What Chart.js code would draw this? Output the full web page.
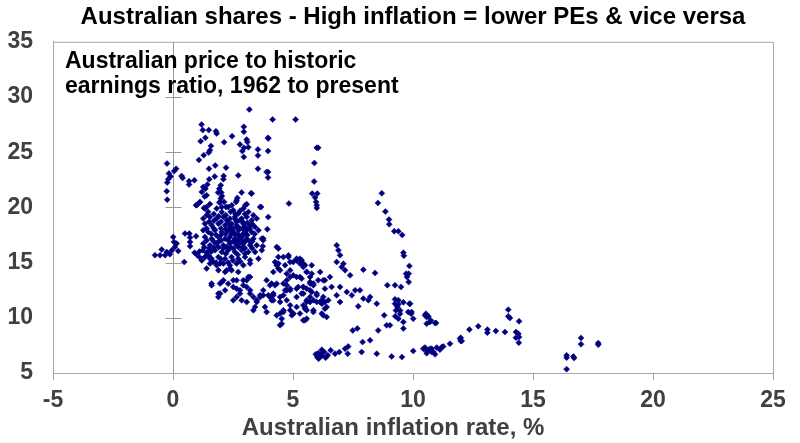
<!DOCTYPE html>
<html>
<head>
<meta charset="utf-8">
<script src="https://cdn.jsdelivr.net/npm/chart.js@4.4.1/dist/chart.umd.min.js"></script>
<style>
  html, body { margin: 0; padding: 0; background: #fff; }
</style>
</head>
<body>
<canvas id="pe-chart" width="800" height="443"></canvas>
<script>
// Points are [inflation %, PE ratio], grouped by area
const highPePoints = [
  [3.18,28.87],[4.15,27.96],[5.11,27.96],[1.19,27.5],[1.24,27.0],[1.49,27.0],[1.79,26.9],[1.82,26.7],
  [2.95,27.3],[2.95,26.85],[1.35,26.3],[1.15,26.0],[2.46,26.45],[2.13,25.9],[3.07,26.15],[3.1,25.93],
  [2.79,25.7],[3.14,25.45],[2.96,25.4],[2.89,25.1],[2.95,24.57],[3.96,26.3],[3.96,25.1],[3.54,25.25],
  [3.54,24.7],[1.58,25.57],[1.54,25.18],[1.49,24.97],[1.28,24.73],[1.08,24.3],[-0.25,23.97],[0.13,23.5],
  [0.05,23.3],[1.76,23.8],[1.5,23.5],[2.21,23.6],[3.54,23.5],[3.96,23.2],[3.96,22.7],[-0.17,23.07],
  [-0.1,22.8],[-0.2,22.55],[-0.24,22.25],[-0.26,21.46],[-0.24,20.7],[0.36,22.85],[0.4,22.67],[0.67,22.37],
  [0.67,22.07],[0.89,22.46],[1.51,22.55],[1.74,22.8],[2.11,22.85],[2.1,22.55],[2.72,22.9],[1.43,22.07],
  [1.26,21.85],[1.2,21.4],[1.35,21.7],[1.4,21.1],[1.32,20.98],[1.99,22.0],[1.93,21.7],[1.88,21.35],
  [2.01,21.35],[2.04,21.04],[1.99,20.8],[1.93,20.44],[0.96,20.2],[1.1,20.44],[1.29,19.95],[1.54,20.3],
  [2.13,20.5],[2.21,20.04],[2.45,20.2],[2.63,20.5],[2.68,20.86],[2.86,21.35],[3.01,20.2],[3.25,21.28],
  [3.67,20.04],[4.83,20.35],[3.28,21.26],[3.9,23.21],[3.97,26.24],[1.13,20.5],[1.4,20.04],[1.96,20.5],
  [2.03,20.04],[2.65,20.65],[3.07,20.29],[3.97,19.13],[3.93,18.02]
];

const sixPctColumn = [
  [6.05,25.4],[5.99,25.4],[5.89,24.03],[5.88,22.35],[5.8,21.25],[6.01,21.25],[5.92,20.9],[5.96,20.5],
  [5.99,20.2],[5.99,19.95]
];

const seventiesPoints = [
  [8.7,21.28],[8.54,20.4],[8.85,19.62],[9.0,18.9],[9.01,18.47],[9.22,17.84],[9.39,17.84],[9.55,17.5],
  [9.6,15.9],[9.62,15.63],[9.85,14.7],[9.71,14.0],[9.82,14.0],[9.75,13.7],[9.82,13.24],[8.93,12.95],
  [9.25,12.95],[9.5,12.8],[9.25,11.67],[9.39,11.6],[9.25,11.28],[9.39,11.22],[9.6,11.4],[9.85,11.28],
  [9.35,10.97],[9.29,10.67],[9.46,10.67],[9.46,10.37],[9.8,10.52],[9.92,10.37],[9.26,10.13],[9.39,9.92],
  [9.6,9.62],[10.01,9.92],[9.6,9.04],[8.8,10.22],[8.9,9.32],[9.04,9.32],[8.55,8.86],[10.54,10.37],
  [10.64,10.13],[10.74,9.77],[10.92,9.53],[10.57,9.47],[10.5,10.22],[10.57,10.07],[10.96,9.53],[10.71,9.62],
  [9.94,10.52],[9.88,11.28]
];

const lowPePoints = [
  [7.49,8.86],[7.68,9.04],[7.9,7.8],[8.21,7.96],[8.49,6.75],[9.11,6.5],[9.54,6.44],[10.01,6.99],
  [5.95,6.69],[6.01,6.44],[6.07,6.3],[6.2,7.11],[6.13,6.69],[6.36,6.39],[6.57,7.05],[6.75,6.75],
  [6.93,6.9],[7.17,7.2],[7.28,6.75],[7.3,7.4],[7.86,6.9],[10.43,7.2],[10.57,6.99],[10.71,7.2],
  [10.85,6.9],[10.99,7.3],[11.12,7.11],[11.26,7.41],[11.54,7.65],[11.96,8.1],[12.03,7.9],[12.35,8.93],
  [12.72,9.23],[13.97,10.74],[13.97,10.13],[14.04,9.98],[14.42,9.68],[13.1,8.93],[13.1,8.65],[13.45,8.8],
  [13.83,8.71],[14.29,8.71],[14.39,8.56],[14.29,8.2],[14.42,8.26],[14.41,7.75],[11.99,8.2],[11.99,7.9],
  [10.5,7.3],[10.64,7.05],[10.57,6.8],[10.78,7.2],[10.78,6.9],[10.92,6.69],[11.2,7.35],[16.4,6.6],
  [16.4,6.39],[16.68,6.5],[16.71,6.35],[16.4,5.35],[17.0,8.18],[17.0,7.6],[17.72,7.71],[17.72,7.57],
  [6.05,6.8],[6.2,6.55],[6.3,6.9],[6.45,6.6]
];

const midPoints = [
  [3.76,17.18],[4.32,16.42],[4.81,15.51],[4.88,15.05],[5.15,15.2],[5.29,14.91],[5.43,14.91],[5.78,14.76],
  [5.78,14.0],[6.13,14.15],[4.32,14.91],[4.39,14.46],[4.18,14.15],[4.74,14.0],[4.88,13.7],[5.15,13.7],
  [5.36,13.55],[5.71,13.7],[5.71,13.1],[6.05,13.4],[6.33,13.4],[6.33,12.64],[5.99,12.04],[5.71,12.49],
  [5.43,12.19],[5.15,12.64],[4.74,12.95],[4.67,12.49],[4.6,12.04],[4.74,11.59],[4.88,11.13],[4.88,10.68],
  [5.01,10.38],[4.6,10.68],[4.46,10.38],[4.53,9.92],[4.46,9.32],[5.43,11.13],[5.57,10.68],[5.71,11.43],
  [5.99,11.43],[6.2,11.59],[6.33,11.43],[6.4,10.98],[6.4,10.07],[6.2,10.38],[5.85,10.68],[5.43,9.77],
  [5.29,10.38],[1.4,14.46],[1.61,13.1],[1.89,12.19],[1.96,13.1],[2.1,13.4],[2.24,14.3],[2.38,14.46],
  [2.51,13.4],[2.65,12.64],[2.65,11.89],[2.79,12.19],[2.93,12.95],[3.07,13.4],[3.14,13.7],[3.21,12.49],
  [3.35,11.89],[3.49,11.43],[3.63,12.04],[3.76,12.04],[3.9,10.52],[4.04,11.89],[4.18,12.04],[4.32,10.22],
  [3.07,11.43],[3.35,10.68],[1.68,15.05],[1.96,14.91],[1.33,15.51],[1.54,15.36],[4.25,15.05],[4.39,14.91],
  [4.11,13.1],[4.67,14.76],[5.01,15.05],[5.36,14.91],[5.43,14.6],[5.57,14.15],[5.29,13.7],[5.01,13.85],
  [4.6,13.1],[4.25,12.95],[4.18,12.19],[4.11,11.59],[4.46,11.43],[4.74,12.49],[4.88,12.64],[5.22,12.8],
  [5.36,12.19],[5.57,12.64],[5.85,13.1],[6.26,13.4],[6.54,13.7],[6.61,12.8],[6.96,12.8],[6.82,12.04],
  [6.47,11.59],[6.13,11.43],[5.85,11.59],[5.71,11.89],[5.57,11.43],[5.5,10.83],[5.15,10.98],[4.6,10.52],
  [4.53,9.47],[4.95,10.22],[5.5,9.77],[5.85,10.52],[6.26,10.22],[6.33,10.83],[6.96,11.43],[7.24,12.34],
  [7.45,12.04],[7.59,12.49],[7.79,12.49],[7.93,11.74],[8.14,11.59],[8.21,11.89],[8.49,11.28],[7.72,11.04],
  [7.38,13.85],[7.93,14.36],[8.42,14.06],[6.82,16.57],[6.89,16.12],[6.96,15.67],[6.82,15.06],[7.03,14.6],
  [7.17,14.3],[7.1,14.9],[5.71,13.25],[5.85,12.95],[5.43,12.8],[5.78,12.34],[5.99,12.19],[6.26,11.89],
  [6.2,11.28],[5.5,10.98],[5.01,10.37],[5.57,9.92],[4.39,16.27],[4.6,15.51],[4.81,15.66],[5.15,15.36],
  [5.36,15.21],[5.5,14.76],[4.32,14.76],[4.46,14.3],[4.88,14.3],[5.57,14.15],[4.74,13.4],[4.32,13.09],
  [3.9,13.4],[4.04,12.94],[3.76,12.49],[3.63,11.88],[3.97,12.04],[4.18,11.58],[3.49,11.58],[3.21,12.19],
  [3.07,12.79],[2.93,13.4],[3.21,13.7],[2.65,13.4],[2.51,12.79],[2.79,12.49],[2.3,13.09],[2.17,12.49],
  [2.03,13.24],[1.96,12.19],[1.61,12.94],[1.89,11.88],[2.51,11.58],[2.86,11.58],[3.42,10.98],[3.83,10.98],
  [4.46,11.88],[4.88,12.49],[5.15,11.88],[5.57,11.58],[5.43,12.79],[3.76,17.02],[3.74,16.48],[4.39,15.51],
  [5.29,15.36],[3.63,20.04]
];

const nearZeroPoints = [
  [-0.75,15.67],[-0.54,15.67],[-0.33,15.67],[-0.47,16.18],[-0.26,15.96],[-0.05,16.11],[-0.13,15.75],[0.01,17.32],
  [0.04,16.87],[0.08,16.41],[0.15,16.72],[0.22,16.05],[0.5,17.63],[0.68,17.63],[0.71,17.27],[0.71,16.87],
  [0.71,16.48],[0.96,17.38],[0.47,15.05],[0.99,20.2]
];

const corePoints = [
  [1.33,19.89],[1.47,19.59],[1.82,19.89],[2.03,19.59],[2.30,20.04],[2.51,19.74],[2.72,19.44],[2.93,19.89],
  [3.14,19.59],[3.35,19.29],[1.26,18.99],[1.54,19.14],[1.82,18.99],[2.10,19.14],[2.37,18.99],[2.58,19.14],
  [2.86,18.99],[3.07,19.14],[3.28,18.84],[3.49,18.99],[1.33,18.53],[1.61,18.38],[1.89,18.53],[2.17,18.38],
  [2.44,18.53],[2.65,18.38],[2.93,18.53],[3.21,18.38],[3.42,18.23],[1.26,17.93],[1.47,17.78],[1.75,17.93],
  [2.03,17.78],[2.30,17.93],[2.51,17.78],[2.72,17.93],[3.00,17.78],[3.28,17.78],[3.56,17.93],[1.33,17.32],
  [1.61,17.17],[1.89,17.32],[2.17,17.17],[2.37,17.32],[2.58,17.17],[2.79,17.32],[3.07,17.17],[3.35,17.17],
  [3.70,17.17],[1.26,16.72],[1.54,16.57],[1.82,16.72],[2.10,16.57],[2.37,16.72],[2.65,16.57],[2.93,16.72],
  [3.21,16.57],[3.49,16.57],[1.24,16.12],[1.47,15.96],[1.75,16.12],[2.03,15.96],[2.30,16.12],[2.58,15.96],
  [2.86,16.12],[3.14,15.96],[3.42,15.96],[3.70,16.12],[1.33,15.51],[1.61,15.36],[1.89,15.51],[2.17,15.36],
  [2.44,15.51],[2.72,15.36],[3.00,15.51],[3.21,15.21],[3.56,15.36],[1.54,14.91],[1.82,14.76],[2.10,14.91],
  [2.37,14.76],[2.65,14.91],[2.93,14.76],[3.21,14.91],[1.89,14.30],[2.17,14.15],[2.44,14.30],[2.72,14.15],
  [2.37,18.23],[2.51,18.08],[2.65,18.68],[2.79,18.08],[2.93,17.63],[2.44,17.63],[2.30,17.02],[2.58,16.87],
  [2.86,17.02],[2.72,16.42],[2.51,16.27],[2.24,16.42],[3.00,18.23],[2.79,18.84],[2.24,18.84],[2.2,18.0],
  [2.6,17.5],[2.9,17.4],[2.4,17.9],[2.7,18.2],[3.1,18.0],[2.0,17.5],[2.5,16.9],[2.8,16.8],
  [3.0,16.3],[2.1,16.3],[1.9,16.9],[2.6,19.4],[2.2,19.3],[3.2,16.9],[1.7,16.4],[1.5,16.3],
  [1.1,16.0],[1.0,15.7],[0.9,15.9],[1.2,15.2],[1.4,15.9],[1.1,15.5],
  [1.4,19.3],[1.7,19.4],[1.9,19.2],[2.4,19.6],[2.8,19.7],[3.0,19.4],[1.5,18.7],[1.7,18.8],
  [2.0,18.7],[2.3,18.6],[2.6,18.9],[2.9,18.7],[3.1,18.6],[3.3,18.5],[1.4,18.1],[1.7,18.1],
  [2.0,18.1],[2.9,18.1],[3.2,18.1],[3.4,17.6],[1.6,17.6],[1.8,17.5],[2.2,17.6],[2.7,17.6],
  [3.1,17.5],[1.4,17.0],[1.7,16.9],[2.0,17.0],[2.7,17.0],[3.0,16.9],[3.3,16.9],[1.3,16.4],
  [1.9,16.4],[2.4,16.4],[2.9,16.4],[3.3,16.3],[1.6,16.0],[2.2,15.8],[2.7,15.7],[3.0,15.8],
  [1.5,15.6],[2.0,15.3],[2.5,15.2],[1.8,15.0],[2.3,15.0],[2.8,15.1]
];

const xTickValues = [-5, 0, 5, 10, 15, 20, 25];
const yTickValues = [5, 10, 15, 20, 25, 30, 35];

const titleText = 'Australian shares - High inflation = lower PEs & vice versa';
const noteLines = ['Australian price to historic', 'earnings ratio, 1962 to present'];
const xAxisTitle = 'Australian inflation rate, %';

const FONT = '"Liberation Sans", Arial, sans-serif';
const GREY = '#404040';
const FRAME = '#a6a6a6';

const allPoints = [].concat(highPePoints, sixPctColumn, seventiesPoints, lowPePoints,
  midPoints, nearZeroPoints, corePoints).map(p => ({ x: p[0], y: p[1] }));

// Frame, crossing ticks on the zero line, and the free text
const decorPlugin = {
  id: 'decor',
  beforeDatasetsDraw(chart) {
    const { ctx, chartArea: a, scales } = chart;
    ctx.save();
    ctx.strokeStyle = FRAME;
    ctx.lineWidth = 1;
    ctx.beginPath();
    ctx.moveTo(a.left, a.top + 0.5);
    ctx.lineTo(a.right + 0.5, a.top + 0.5);
    ctx.lineTo(a.right + 0.5, a.bottom);
    ctx.stroke();

    const x0 = Math.round(scales.x.getPixelForValue(0)) + 0.5;
    ctx.strokeStyle = '#999999';
    ctx.beginPath();
    yTickValues.forEach(v => {
      if (v === 5 || v === 35) return;
      const y = Math.round(scales.y.getPixelForValue(v)) + 0.5;
      ctx.moveTo(x0 - 8, y);
      ctx.lineTo(x0 + 8, y);
    });
    ctx.stroke();
    ctx.restore();
  },
  afterDraw(chart) {
    const { ctx, chartArea: a } = chart;
    ctx.save();
    ctx.fillStyle = '#000';
    ctx.font = 'bold 23px ' + FONT;
    ctx.textBaseline = 'alphabetic';
    ctx.textAlign = 'left';
    noteLines.forEach((line, i) => ctx.fillText(line, a.left + 12, 68 + i * 25));

    ctx.fillStyle = GREY;
    ctx.font = 'bold 24px ' + FONT;
    ctx.textAlign = 'center';
    ctx.fillText(xAxisTitle, 393, 435);
    ctx.restore();
  }
};

const tickFont = { family: FONT, size: 23, weight: 'bold' };

new Chart(document.getElementById('pe-chart'), {
  type: 'scatter',
  data: {
    datasets: [{
      label: 'PE vs inflation',
      data: allPoints,
      pointStyle: 'rectRot',
      pointRadius: 3,
      borderWidth: 0.5,
      backgroundColor: '#000080',
      borderColor: '#000080'
    }]
  },
  options: {
    responsive: false,
    animation: false,
    layout: { padding: { left: 0, right: 27, top: 0, bottom: 0 } },
    plugins: {
      legend: { display: false },
      tooltip: { enabled: false },
      title: {
        display: true,
        text: titleText,
        fullSize: false,
        color: '#000',
        font: { family: FONT, size: 24, weight: 'bold' },
        padding: { top: 3, bottom: 10 }
      }
    },
    scales: {
      x: {
        type: 'linear',
        min: -5,
        max: 25,
        afterBuildTicks: s => { s.ticks = xTickValues.map(v => ({ value: v })); },
        ticks: { color: GREY, font: tickFont, padding: 7 },
        grid: {
          color: c => (c.tick && c.tick.value === 0 ? '#999999' : 'rgba(0,0,0,0)'),
          tickColor: FRAME,
          tickLength: 7
        },
        border: { display: true, color: FRAME },
        afterFit: s => { s.height = 70; }
      },
      y: {
        type: 'linear',
        min: 5,
        max: 35,
        afterBuildTicks: s => { s.ticks = yTickValues.map(v => ({ value: v })); },
        ticks: { color: GREY, font: tickFont, padding: 20 },
        grid: { drawOnChartArea: false, drawTicks: false },
        border: { display: true, color: FRAME },
        afterFit: s => { s.width = 53; }
      }
    }
  },
  plugins: [decorPlugin]
});
</script>
</body>
</html>
